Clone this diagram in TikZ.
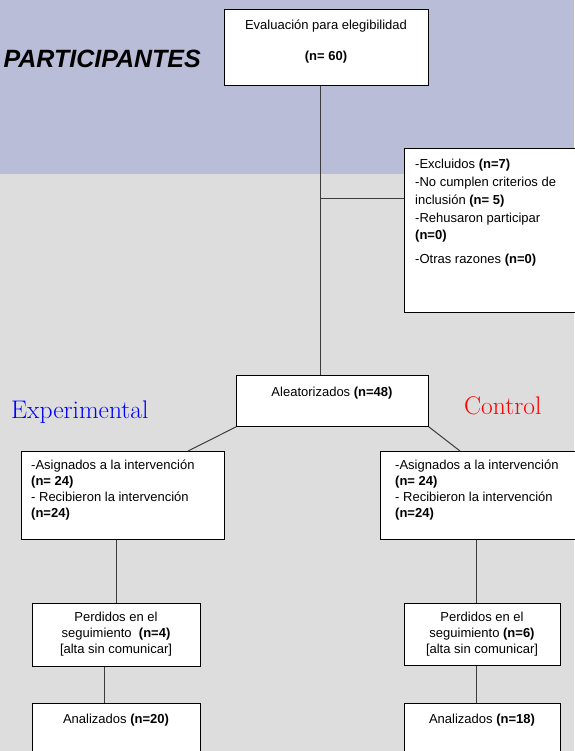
\documentclass[tikz,border=0pt]{standalone}
\usepackage{fontspec}
\newfontfamily\arial{Liberation Sans}
\definecolor{bandblue}{RGB}{185,189,216}
\definecolor{bggrey}{RGB}{221,221,221}
\definecolor{linegrey}{RGB}{60,60,60}
\definecolor{expblue}{RGB}{0,0,255}
\definecolor{ctlred}{RGB}{255,0,0}
\begin{document}
\begin{tikzpicture}[x=1pt,y=-1pt,
  box/.style={draw=black,line width=0.9pt,fill=white,anchor=north west,inner sep=0pt},
  txt/.style={font=\arial\fontsize{13}{16}\selectfont,inner sep=0pt},
  conn/.style={draw=linegrey,line width=1pt},
  grp/.style={font=\fontsize{25.5}{30}\selectfont,inner sep=0pt,anchor=base west}]
\useasboundingbox (0,0) rectangle (574,751);
\fill[bggrey] (0,174.5) rectangle (574,751);
\fill[bandblue] (0,0) rectangle (574,174.5);

\node[font=\arial\bfseries\itshape\fontsize{25}{30}\selectfont,anchor=base east,inner sep=0pt] (title) at (201,68) {PARTICIPANTES};

% boxes
\node[box,minimum width=204pt,minimum height=76pt] (top) at (224,9) {};
\node[box,minimum width=190pt,minimum height=164pt] (excl) at (404,148) {};
\node[box,minimum width=192pt,minimum height=51pt] (ale) at (236,375) {};
\node[box,minimum width=203pt,minimum height=88pt] (b1l) at (21,451) {};
\node[box,minimum width=210pt,minimum height=88pt] (b1r) at (380,451) {};
\node[box,minimum width=168pt,minimum height=63pt] (b2l) at (32,603) {};
\node[box,minimum width=156pt,minimum height=62pt] (b2r) at (404,603) {};
\node[box,minimum width=168pt,minimum height=70pt] (b3l) at (32,703) {};
\node[box,minimum width=156pt,minimum height=70pt] (b3r) at (404,703) {};

% connectors
\draw[conn] ([xshift=-6pt]top.south) -- ([xshift=-12pt]ale.north);
\coordinate (j) at (320,199);
\draw[conn] (j) -- (j -| excl.west);
\draw[conn] (ale.south west) -- ([xshift=167pt]b1l.north west);
\draw[conn] (ale.south east) -- ([xshift=80pt]b1r.north west);
\draw[conn] ([xshift=95pt]b1l.south west) -- ([xshift=84pt]b2l.north west);
\draw[conn] ([xshift=96pt]b1r.south west) -- ([xshift=72pt]b2r.north west);
\draw[conn] ([xshift=72pt]b2l.south west) -- ([xshift=72pt]b3l.north west);
\draw[conn] ([xshift=72pt]b2r.south west) -- ([xshift=72pt]b3r.north west);

% texts
\node[txt,anchor=base] (t1) at (326,30) {Evaluación para elegibilidad};
\node[txt,anchor=base] (t2) at (326,61) {\bfseries (n= 60)};

\node[txt,anchor=base west] (e1) at (415,168.5) {-Excluidos \textbf{(n=7)}};
\node[txt,anchor=base west] (e2) at (415,186.5) {-No cumplen criterios de};
\node[txt,anchor=base west] (e3) at (415,204.5) {inclusión \textbf{(n= 5)}};
\node[txt,anchor=base west] (e4) at (415,222.5) {-Rehusaron participar};
\node[txt,anchor=base west] (e5) at (415,239.5) {\textbf{(n=0)}};
\node[txt,anchor=base west] (e6) at (415,263.5) {-Otras razones \textbf{(n=0)}};

\node[txt,anchor=base] (a1) at (332,396.5) {Aleatorizados \textbf{(n=48)}};

\node[grp,text=expblue] (exp) at (11,418) {Experimental};
\node[grp,text=ctlred] (ctl) at (464,414) {Control};

\node[txt,anchor=base west] (l1) at (31,469.5) {-Asignados a la intervención};
\node[txt,anchor=base west] (l2) at (31,485.5) {\textbf{(n= 24)}};
\node[txt,anchor=base west] (l3) at (31,501.5) {- Recibieron la intervención};
\node[txt,anchor=base west] (l4) at (31,517.5) {\textbf{(n=24)}};

\node[txt,anchor=base west] (r1) at (395,469.5) {-Asignados a la intervención};
\node[txt,anchor=base west] (r2) at (395,485.5) {\textbf{(n= 24)}};
\node[txt,anchor=base west] (r3) at (395,501.5) {- Recibieron la intervención};
\node[txt,anchor=base west] (r4) at (395,517.5) {\textbf{(n=24)}};

\node[txt,anchor=base] (p1) at (116,621) {Perdidos en el};
\node[txt,anchor=base] (p2) at (116,637) {seguimiento\ \ \textbf{(n=4)}};
\node[txt,anchor=base] (p3) at (116,653) {[alta sin comunicar]};

\node[txt,anchor=base] (q1) at (482,621) {Perdidos en el};
\node[txt,anchor=base] (q2) at (482,637) {seguimiento \textbf{(n=6)}};
\node[txt,anchor=base] (q3) at (482,653) {[alta sin comunicar]};

\node[txt,anchor=base] (n1) at (116,723) {Analizados \textbf{(n=20)}};
\node[txt,anchor=base] (n2) at (482,723) {Analizados \textbf{(n=18)}};
\end{tikzpicture}
\end{document}
